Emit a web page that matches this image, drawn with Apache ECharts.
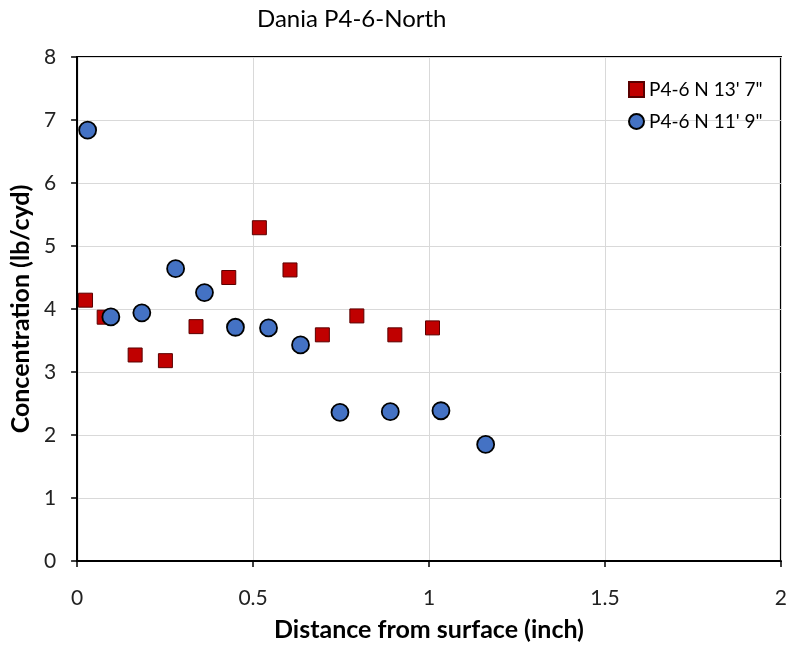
<!DOCTYPE html>
<html>
<head>
<meta charset="utf-8">
<script src="https://cdn.jsdelivr.net/npm/echarts@6/dist/echarts.min.js"></script>
<style>html,body{margin:0;padding:0;background:#fff}#c{width:790px;height:647px}</style>
</head>
<body>
<div id="c"></div>
<script>
const seriesNames = ["P4-6 N 13' 7\"", "P4-6 N 11' 9\""];
const redX = [0.024, 0.077, 0.165, 0.251, 0.338, 0.431, 0.518, 0.605, 0.697, 0.795, 0.903, 1.010];
const redY = [4.14, 3.87, 3.27, 3.18, 3.72, 4.50, 5.29, 4.62, 3.59, 3.89, 3.59, 3.70];
const blueX = [0.030, 0.096, 0.184, 0.280, 0.362, 0.450, 0.544, 0.635, 0.747, 0.890, 1.034, 1.161];
const blueY = [6.84, 3.875, 3.94, 4.64, 4.26, 3.71, 3.70, 3.43, 2.36, 2.37, 2.385, 1.85];
const xTicks = [0, 0.5, 1, 1.5, 2];
const yTicks = [0, 1, 2, 3, 4, 5, 6, 7, 8];

const FONT = 'Lato';
const chart = echarts.init(document.getElementById('c'), null, {renderer: 'canvas'});
const zip = (xs, ys) => xs.map((x, i) => [x, ys[i]]);
chart.setOption({
  animation: false,
  backgroundColor: '#fff',
  textStyle: {fontFamily: FONT},
  title: {
    text: 'Dania P4-6-North', left: 252, top: 2,
    textStyle: {fontFamily: FONT, fontSize: 24, fontWeight: 'normal', color: '#000'}
  },
  grid: {left: 75, right: 9, top: 57, bottom: 84, show: true, borderColor: '#000', borderWidth: 2, containLabel: false},
  legend: {
    orient: 'vertical', left: 623, top: 75, itemGap: 13, itemWidth: 15, itemHeight: 15,
    textStyle: {fontFamily: FONT, fontSize: 19, color: '#000'},
    data: [
      {name: seriesNames[0], icon: 'rect'},
      {name: seriesNames[1], icon: 'circle'}
    ]
  },
  xAxis: {
    type: 'value', min: xTicks[0], max: xTicks[xTicks.length - 1], interval: 0.5,
    name: 'Distance from surface (inch)', nameLocation: 'middle', nameGap: 56,
    nameTextStyle: {fontFamily: FONT, fontSize: 25, fontWeight: 'bold', color: '#000'},
    axisLine: {show: true, lineStyle: {color: '#000', width: 2}},
    axisTick: {show: true, length: 6, lineStyle: {color: '#000', width: 1.5}},
    axisLabel: {fontFamily: FONT, fontSize: 21, color: '#222', margin: 27},
    splitLine: {show: true, lineStyle: {color: '#d9d9d9', width: 1}}
  },
  yAxis: {
    type: 'value', min: yTicks[0], max: yTicks[yTicks.length - 1], interval: 1,
    name: 'Concentration (lb/cyd)', nameLocation: 'middle', nameGap: 41,
    nameTextStyle: {fontFamily: FONT, fontSize: 25, fontWeight: 'bold', color: '#000'},
    axisLine: {show: true, lineStyle: {color: '#000', width: 2}},
    axisTick: {show: true, length: 6, lineStyle: {color: '#000', width: 1.5}},
    axisLabel: {fontFamily: FONT, fontSize: 21, color: '#222', margin: 21},
    splitLine: {show: true, lineStyle: {color: '#d9d9d9', width: 1}}
  },
  series: [
    {
      name: seriesNames[0], type: 'scatter', symbol: 'rect', symbolSize: 14,
      itemStyle: {color: '#c00000', borderColor: '#5a0000', borderWidth: 1, opacity: 1},
      data: zip(redX, redY), z: 2
    },
    {
      name: seriesNames[1], type: 'scatter', symbol: 'circle', symbolSize: 17,
      itemStyle: {color: '#4472c4', borderColor: '#000', borderWidth: 1.8, opacity: 1},
      data: zip(blueX, blueY), z: 3
    }
  ]
});
</script>
</body>
</html>
